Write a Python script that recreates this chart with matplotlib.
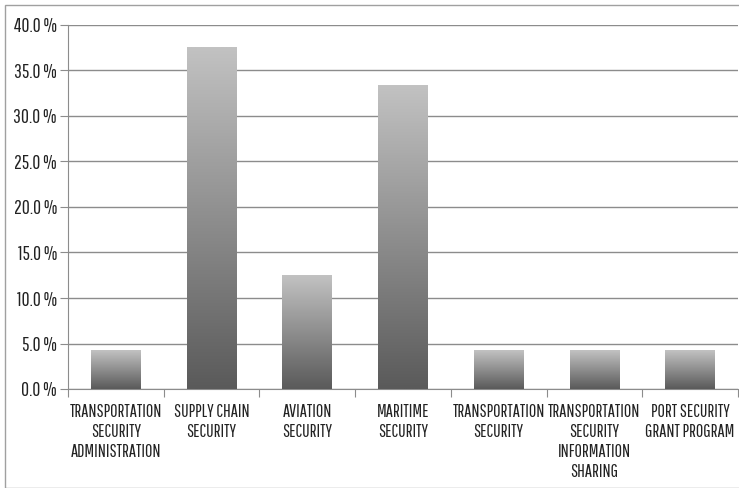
import matplotlib
matplotlib.use("Agg")
import matplotlib.pyplot as plt
import numpy as np
from matplotlib.patches import Rectangle
from matplotlib.ticker import FuncFormatter, FixedLocator

categories = ["TRANSPORTATION\nSECURITY\nADMINISTRATION", "SUPPLY CHAIN\nSECURITY",
              "AVIATION\nSECURITY", "MARITIME\nSECURITY", "TRANSPORTATION\nSECURITY",
              "TRANSPORTATION\nSECURITY\nINFORMATION\nSHARING", "PORT SECURITY\nGRANT PROGRAM"]
values = [4.2, 37.5, 12.5, 33.3, 4.2, 4.2, 4.2]
yticks = [0, 5, 10, 15, 20, 25, 30, 35, 40]

plt.rcParams['font.family'] = ['Pathway Gothic One', 'DejaVu Sans']

fig = plt.figure(figsize=(7.39, 4.88), dpi=100)
fig.patches.append(Rectangle((5/739, 0), 1, 1-5/488, transform=fig.transFigure,
                             fill=False, edgecolor='#a0a0a0', linewidth=1))
ax = fig.add_axes([68/739, 1-389/488, 670/739, 364/488])

n = len(values)

grad = np.linspace(0, 1, 256).reshape(-1, 1)
cmap = matplotlib.colors.LinearSegmentedColormap.from_list('g', ['#5a5a5a', '#c2c2c2'])
width = 0.52
for i, v in enumerate(values):
    ax.imshow(grad, extent=[i-width/2, i+width/2, 0, v], origin='lower', cmap=cmap,
              aspect='auto', zorder=3)
ax.set_xlim(-0.5, n-0.5)
ax.set_ylim(0, 40)

ax.set_yticks(yticks)
ax.yaxis.set_major_formatter(FuncFormatter(lambda y, p: f"{y:.1f} %"))
ax.grid(axis='y', color='#8c8c8c', linewidth=1, zorder=0)
ax.set_axisbelow(True)

ax.xaxis.set_major_locator(FixedLocator(np.arange(-0.5, n, 1)))
ax.xaxis.set_major_formatter(FuncFormatter(lambda x, p: ""))
ax.xaxis.set_minor_locator(FixedLocator(np.arange(n)))
ax.set_xticklabels(categories, minor=True)
ax.tick_params(axis='x', which='major', length=6, color='#8c8c8c', direction='out')
ax.tick_params(axis='x', which='minor', length=0, labelsize=13, pad=11, labelcolor='#222222')
ax.tick_params(axis='y', length=6, color='#8c8c8c', labelsize=14, pad=2, labelcolor='#222222')
for lab in ax.get_xticklabels(minor=True):
    lab.set_linespacing(1.3)

for s in ['top', 'right']:
    ax.spines[s].set_visible(False)
for s in ['left', 'bottom']:
    ax.spines[s].set_color('#8c8c8c')

fig.savefig('out.png', dpi=100)
